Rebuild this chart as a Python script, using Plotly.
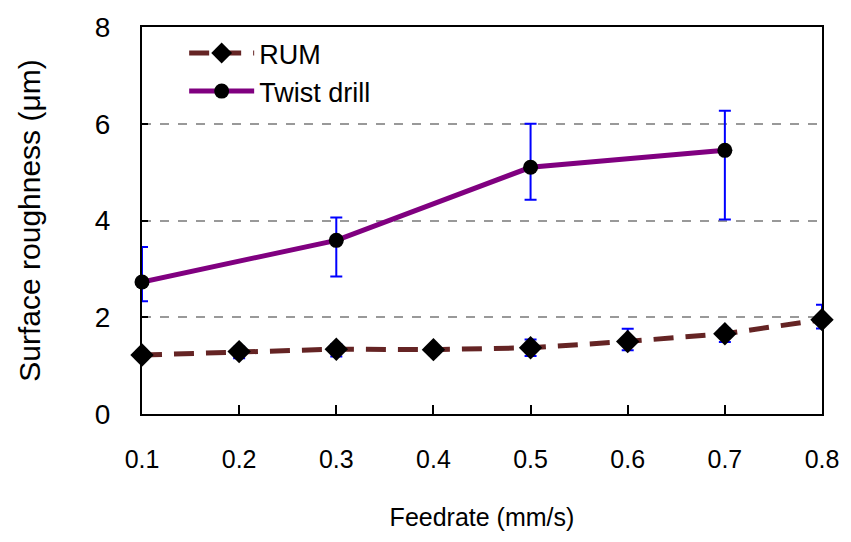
import plotly.graph_objects as go

feedrate_rum = [0.1, 0.2, 0.3, 0.4, 0.5, 0.6, 0.7, 0.8]
rum_values = [1.22, 1.29, 1.34, 1.33, 1.37, 1.50, 1.66, 1.95]
rum_err_plus = [0.05, 0.10, 0.10, 0.05, 0.17, 0.26, 0.10, 0.31]
rum_err_minus = [0.05, 0.14, 0.15, 0.05, 0.17, 0.18, 0.17, 0.18]

feedrate_twist = [0.1, 0.3, 0.5, 0.7]
twist_values = [2.73, 3.59, 5.10, 5.45]
twist_err_plus = [0.72, 0.47, 0.90, 0.82]
twist_err_minus = [0.40, 0.75, 0.67, 1.43]

x_ticks = [0.1, 0.2, 0.3, 0.4, 0.5, 0.6, 0.7, 0.8]
y_ticks = [0, 2, 4, 6, 8]

font = "Arial, Liberation Sans, sans-serif"

fig = go.Figure()
fig.add_trace(go.Scatter(
    x=feedrate_rum, y=rum_values, name="RUM", mode="lines+markers",
    line=dict(color="#652424", width=5, dash="20px,12px"),
    marker=dict(symbol="diamond", size=18, color="black"),
    error_y=dict(type="data", array=rum_err_plus, arrayminus=rum_err_minus,
                 color="#0000FF", thickness=2, width=6),
    cliponaxis=False,
))
fig.add_trace(go.Scatter(
    x=feedrate_twist, y=twist_values, name="Twist drill", mode="lines+markers",
    line=dict(color="#800080", width=5),
    marker=dict(symbol="circle", size=15, color="black"),
    error_y=dict(type="data", array=twist_err_plus, arrayminus=twist_err_minus,
                 color="#0000FF", thickness=2, width=6),
    cliponaxis=False,
))

fig.update_layout(
    width=851, height=542,
    margin=dict(l=142, r=28, t=22, b=128),
    paper_bgcolor="white", plot_bgcolor="white",
    font=dict(family=font, size=24, color="black"),
    showlegend=True,
    legend=dict(x=0.062, y=0.995, xanchor="left", yanchor="top",
                bgcolor="rgba(0,0,0,0)", font=dict(family=font, size=27),
                tracegroupgap=0, itemwidth=65),
    xaxis=dict(
        range=[0.1, 0.8], tickvals=x_ticks, ticktext=[f"{v:.1f}" for v in x_ticks],
        tickfont=dict(family=font, size=25),
        showline=True, linecolor="black", linewidth=2, mirror=True,
        ticks="inside", ticklen=9, tickwidth=2, tickcolor="black",
        showgrid=False, zeroline=False, ticklabelstandoff=22,
        title=dict(text="Feedrate (mm/s)", standoff=36, font=dict(family=font, size=25)),
    ),
    yaxis=dict(
        range=[0, 8], tickvals=y_ticks,
        tickfont=dict(family=font, size=28),
        showline=True, linecolor="black", linewidth=2, mirror=True,
        ticks="inside", ticklen=6, tickwidth=2, tickcolor="black",
        showgrid=True, gridcolor="#999999", gridwidth=1.5, griddash="dash",
        zeroline=False, ticklabelstandoff=24,
        title=dict(text="Surface roughness (μm)", standoff=45, font=dict(family=font, size=30)),
    ),
)

fig.write_html("out.html")
